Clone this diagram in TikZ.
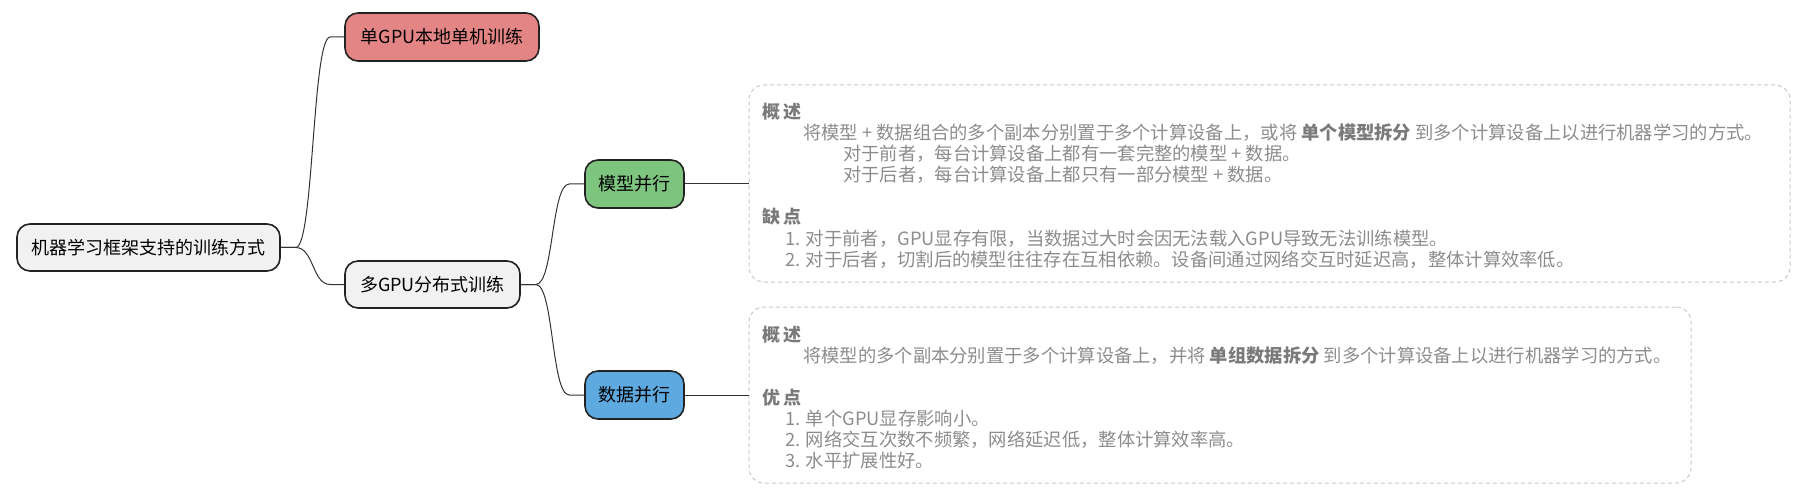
\documentclass[tikz,border=0pt]{standalone}
\usepackage{fontspec}
\setmainfont{Noto Sans CJK SC}
\usetikzlibrary{calc}
\definecolor{rootfill}{HTML}{F1F1F1}
\definecolor{redfill}{HTML}{E48585}
\definecolor{greenfill}{HTML}{7DC47E}
\definecolor{bluefill}{HTML}{5DA9E0}
\definecolor{bordercol}{HTML}{222222}
\definecolor{linecol}{HTML}{333333}
\definecolor{dashcol}{HTML}{C8C8C8}
\definecolor{txtgray}{HTML}{8C8C8C}
\definecolor{headgray}{HTML}{7A7A7A}
\begin{document}
\begin{tikzpicture}[x=1pt,y=-1pt,
  mm/.style={draw=bordercol, line width=1.6pt, rounded corners=13pt, inner sep=0pt,
    font=\fontsize{18}{22}\selectfont, text=black},
  notebox/.style={draw=dashcol, dash pattern=on 4pt off 3pt, line width=1pt,
    rounded corners=15pt, inner sep=0pt},
  txt/.style={anchor=base west, inner sep=0pt, text=txtgray,
    font=\fontsize{18.3}{22}\selectfont},
  head/.style={txt, text=headgray, font=\fontsize{18}{22}\selectfont\bfseries},
  conn/.style={draw=linecol, line width=1pt}]
\useasboundingbox (0,0) rectangle (1810,497);
% mind map nodes
\node[mm, fill=rootfill, minimum width=263pt, minimum height=47pt] (root) at (148.5,247.5) {机器学习框架支持的训练方式};
\node[mm, fill=redfill, minimum width=194pt, minimum height=48pt] (single) at (442,37) {单GPU本地单机训练};
\node[mm, fill=rootfill, minimum width=175pt, minimum height=47pt] (multi) at (432.5,284.5) {多GPU分布式训练};
\node[mm, fill=greenfill, minimum width=99pt, minimum height=48pt] (model) at (634.5,184) {模型并行};
\node[mm, fill=bluefill, minimum width=99pt, minimum height=48pt] (data) at (634.5,395) {数据并行};
% note boxes
\node[notebox, minimum width=1041pt, minimum height=197pt] (nb1) at (1269.5,183.5) {};
\node[notebox, minimum width=942pt, minimum height=176pt] (nb2) at (1220,395) {};
% connectors
\draw[conn] (root.east) -- ++(15,0) .. controls +(18,0) and +(-18,0) .. ($(single.west)+(-14,0)$) -- (single.west);
\draw[conn] (root.east) -- ++(15,0) .. controls +(18,0) and +(-18,0) .. ($(multi.west)+(-14,0)$) -- (multi.west);
\draw[conn] (multi.east) -- ++(15,0) .. controls +(18,0) and +(-18,0) .. ($(model.west)+(-15,0)$) -- (model.west);
\draw[conn] (multi.east) -- ++(15,0) .. controls +(18,0) and +(-18,0) .. ($(data.west)+(-15,0)$) -- (data.west);
\draw[conn] (model.east) -- (model.east -| nb1.west);
\draw[conn] (data.east) -- (data.east -| nb2.west);
% top note text
\node[head] (a1) at (762,119) {概\hspace{3pt}述};
\node[txt] (a2) at (803,140) {将模型 + 数据组合的多个副本分别置于多个计算设备上，或将 {\bfseries\color{headgray}单个模型拆分} 到多个计算设备上以进行机器学习的方式。};
\node[txt] (a3) at (843,161) {对于前者，每台计算设备上都有一套完整的模型 + 数据。};
\node[txt] (a4) at (843,182) {对于后者，每台计算设备上都只有一部分模型 + 数据。};
\node[head] (a5) at (762,224) {缺\hspace{3pt}点};
\node[txt] (a6) at (785,245) {1. 对于前者，GPU显存有限，当数据过大时会因无法载入GPU导致无法训练模型。};
\node[txt] (a7) at (785,266) {2. 对于后者，切割后的模型往往存在互相依赖。设备间通过网络交互时延迟高，整体计算效率低。};
% bottom note text
\node[head] (b1) at (762,341) {概\hspace{3pt}述};
\node[txt] (b2) at (803,362) {将模型的多个副本分别置于多个计算设备上，并将 {\bfseries\color{headgray}单组数据拆分} 到多个计算设备上以进行机器学习的方式。};
\node[head] (b3) at (762,404) {优\hspace{3pt}点};
\node[txt] (b4) at (785,425) {1. 单个GPU显存影响小。};
\node[txt] (b5) at (785,446) {2. 网络交互次数不频繁，网络延迟低，整体计算效率高。};
\node[txt] (b6) at (785,467) {3. 水平扩展性好。};
\end{tikzpicture}
\end{document}
